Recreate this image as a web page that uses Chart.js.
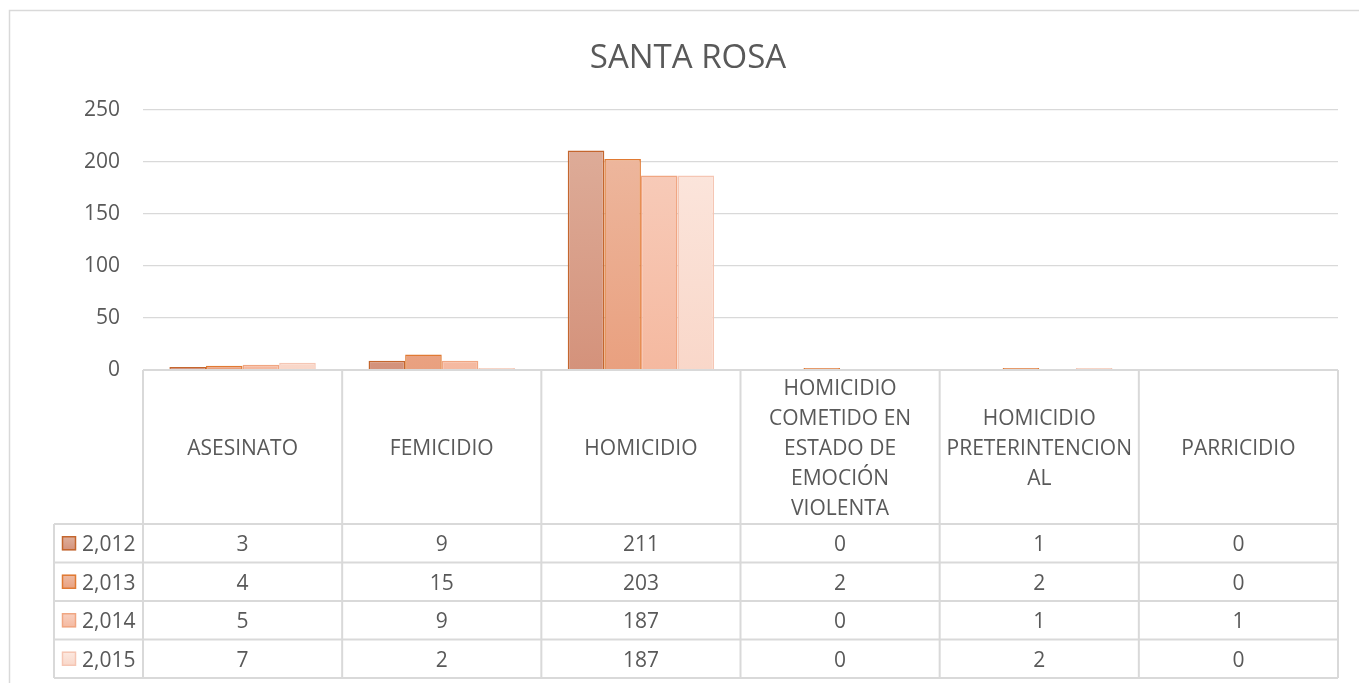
<!DOCTYPE html>
<html>
<head>
<meta charset="utf-8">
<script src="https://cdn.jsdelivr.net/npm/chart.js@4.4.1/dist/chart.umd.min.js"></script>
<style>
html,body{margin:0;padding:0;background:#fff;}
#wrap{width:1359px;height:683px;position:relative;}
</style>
</head>
<body>
<div id="wrap"><canvas id="c" width="1359" height="683"></canvas></div>
<script>
// ---- data ----
const chartTitle = 'SANTA ROSA';
const categoryLines = [
  ['ASESINATO'],
  ['FEMICIDIO'],
  ['HOMICIDIO'],
  ['HOMICIDIO', 'COMETIDO EN', 'ESTADO DE', 'EMOCIÓN', 'VIOLENTA'],
  ['HOMICIDIO', 'PRETERINTENCION', 'AL'],
  ['PARRICIDIO']
];
const seriesNames = ['2,012', '2,013', '2,014', '2,015'];
const values2012 = [3, 9, 211, 0, 1, 0];
const values2013 = [4, 15, 203, 2, 2, 0];
const values2014 = [5, 9, 187, 0, 1, 1];
const values2015 = [7, 2, 187, 0, 2, 0];
const yTickValues = [0, 50, 100, 150, 200, 250];

// ---- styles ----
const TEXT = '#595959';
const LINE = '#D9D9D9';
const FONT = '"Open Sans", "DejaVu Sans", sans-serif';
const fills = [
  ['#DFB09D', '#D4927B'],
  ['#EEBBA3', '#E9A07F'],
  ['#F8D0C0', '#F5B9A0'],
  ['#FCE9E1', '#F9D7C9']
];
const borders = ['#C4662E', '#E07A33', '#F0A682', '#F5C6B4'];

const gradCache = {};
function gradFor(i) {
  return function (ctx) {
    const chart = ctx.chart;
    const a = chart.chartArea;
    if (!a) return fills[i][1];
    const key = i + ':' + a.top + ':' + a.bottom;
    if (!gradCache[key]) {
      const g = chart.ctx.createLinearGradient(0, a.top, 0, a.bottom);
      g.addColorStop(0, fills[i][0]);
      g.addColorStop(1, fills[i][1]);
      gradCache[key] = g;
    }
    return gradCache[key];
  };
}

const allValues = [values2012, values2013, values2014, values2015];
const datasets = allValues.map((vals, i) => ({
  label: seriesNames[i],
  data: vals,
  backgroundColor: gradFor(i),
  borderColor: borders[i],
  borderWidth: 1.5,
  borderSkipped: 'bottom',
  categoryPercentage: 0.735,
  barPercentage: 1.0
}));

const TY = 2; // text vertical nudge

const tablePlugin = {
  id: 'excelTable',
  beforeDraw(chart) {
    const ctx = chart.ctx;
    ctx.save();
    ctx.strokeStyle = LINE;
    ctx.lineWidth = 1.5;
    ctx.beginPath();
    ctx.moveTo(9.5, 683);
    ctx.lineTo(9.5, 10.5);
    ctx.lineTo(1359, 10.5);
    ctx.stroke();
    ctx.restore();
  },
  afterDraw(chart) {
    const ctx = chart.ctx;
    const xs = chart.scales.x;
    const a = chart.chartArea;
    const n = categoryLines.length;
    const colW = (xs.right - xs.left) / n;
    const top = a.bottom;
    const headerH = 154;
    const rowH = 38.5;
    const legendLeft = 54;
    const rowsTop = top + headerH;
    const bottom = rowsTop + rowH * seriesNames.length;

    ctx.save();
    // title
    ctx.fillStyle = TEXT;
    ctx.font = '33px ' + FONT;
    ctx.textAlign = 'center';
    ctx.textBaseline = 'middle';
    ctx.fillText(chartTitle, 688, 59);

    // grid lines of the table
    ctx.strokeStyle = LINE;
    ctx.lineWidth = 2;
    ctx.beginPath();
    ctx.moveTo(xs.left, top); ctx.lineTo(xs.right, top);
    for (let r = 0; r <= seriesNames.length; r++) {
      const y = rowsTop + r * rowH;
      ctx.moveTo(legendLeft, y); ctx.lineTo(xs.right, y);
    }
    for (let c = 0; c <= n; c++) {
      const x = xs.left + c * colW;
      ctx.moveTo(x, top); ctx.lineTo(x, bottom);
    }
    ctx.moveTo(legendLeft, rowsTop); ctx.lineTo(legendLeft, bottom);
    ctx.stroke();

    // header labels
    ctx.fillStyle = TEXT;
    ctx.font = '21px ' + FONT;
    ctx.textAlign = 'center';
    ctx.textBaseline = 'middle';
    const lh = 29.8;
    categoryLines.forEach((lines, i) => {
      const cx = xs.getPixelForTick(i);
      const cy = top + headerH / 2 + TY;
      const y0 = cy - (lines.length - 1) * lh / 2;
      lines.forEach((t, k) => ctx.fillText(t, cx, y0 + k * lh));
    });

    // rows
    chart.data.datasets.forEach((ds, r) => {
      const cy = rowsTop + r * rowH + rowH / 2;
      // swatch
      const g = ctx.createLinearGradient(0, cy - 7, 0, cy + 7);
      g.addColorStop(0, fills[r][0]);
      g.addColorStop(1, fills[r][1]);
      ctx.fillStyle = g;
      ctx.fillRect(62, cy - 7, 14, 14);
      ctx.strokeStyle = borders[r];
      ctx.lineWidth = 1.5;
      ctx.strokeRect(62.5, cy - 6.5, 13, 13);
      ctx.fillStyle = TEXT;
      ctx.textAlign = 'left';
      ctx.fillText(ds.label, 82, cy + TY);
      ctx.textAlign = 'center';
      ds.data.forEach((v, i) => {
        ctx.fillText(String(v), xs.getPixelForTick(i), cy + TY);
      });
    });
    ctx.restore();
  }
};

new Chart(document.getElementById('c'), {
  type: 'bar',
  data: { labels: categoryLines, datasets },
  options: {
    responsive: false,
    animation: false,
    events: [],
    layout: { padding: { top: 110, right: 21, left: 0, bottom: 0 } },
    plugins: { legend: { display: false }, title: { display: false }, tooltip: { enabled: false } },
    scales: {
      x: {
        grid: { display: false },
        border: { display: false },
        ticks: { display: false },
        afterFit(s) { s.height = 313; }
      },
      y: {
        min: 0,
        max: 250,
        afterBuildTicks(s) { s.ticks = yTickValues.map(v => ({ value: v })); },
        ticks: { color: TEXT, font: { family: FONT, size: 21 }, padding: 23 },
        grid: { color: LINE, lineWidth: 1.3, drawTicks: false },
        border: { display: false },
        afterFit(s) { s.width = 143; }
      }
    }
  },
  plugins: [tablePlugin]
});
</script>
</body>
</html>
